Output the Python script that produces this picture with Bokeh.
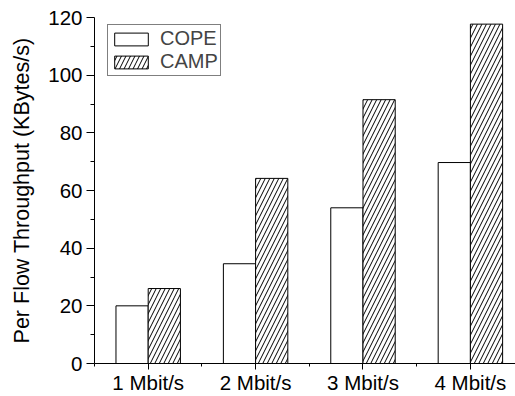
from bokeh.plotting import figure
from bokeh.models import FixedTicker, Range1d, Legend, LegendItem
from bokeh.embed import file_html
from bokeh.resources import INLINE

categories = ["1 Mbit/s", "2 Mbit/s", "3 Mbit/s", "4 Mbit/s"]
cope = [20.0, 34.6, 54.0, 69.7]
camp = [26.0, 64.2, 91.5, 117.7]
y_ticks = [0, 20, 40, 60, 80, 100, 120]

xs = list(range(1, len(categories) + 1))
FONT = "Liberation Sans"

p = figure(width=515, height=396, output_backend="svg", toolbar_location=None,
           x_range=Range1d(0.5, 4.42), y_range=Range1d(0, 120),
           min_border_left=94, min_border_top=17, min_border_right=0, min_border_bottom=30)
p.outline_line_color = None
p.xgrid.visible = False
p.ygrid.visible = False

bw = 0.3
r1 = p.vbar(x=[x - bw / 2 for x in xs], top=cope, width=bw, bottom=0,
            fill_color="white", line_color="black", line_width=1)
r2 = p.vbar(x=[x + bw / 2 for x in xs], top=camp, width=bw, bottom=0,
            fill_color="white", line_color="black", line_width=1,
            hatch_pattern="/", hatch_color="black", hatch_scale=9, hatch_weight=1)

p.xaxis.ticker = FixedTicker(ticks=xs, minor_ticks=[0.5, 1.5, 2.5, 3.5])
p.xaxis.major_label_overrides = {x: c for x, c in zip(xs, categories)}
p.yaxis.ticker = FixedTicker(ticks=y_ticks, minor_ticks=[10, 30, 50, 70, 90, 110])
for ax in (p.xaxis[0], p.yaxis[0]):
    ax.axis_line_color = "black"
    ax.axis_line_width = 1
    ax.major_tick_line_color = "black"
    ax.minor_tick_line_color = "black"
    ax.major_tick_in = 0
    ax.minor_tick_in = 0
    ax.major_label_text_font = FONT
    ax.major_label_text_font_size = "20.5px"
    ax.major_label_text_color = "black"
p.xaxis.major_tick_out = 6
p.xaxis.minor_tick_out = 3
p.xaxis.major_label_standoff = 1
p.yaxis.major_tick_out = 8
p.yaxis.minor_tick_out = 4
p.yaxis.major_label_standoff = 4
p.yaxis.axis_label = "Per Flow Throughput (KBytes/s)"
p.yaxis.axis_label_text_font = FONT
p.yaxis.axis_label_text_font_size = "21.5px"
p.yaxis.axis_label_text_font_style = "normal"
p.yaxis.axis_label_text_color = "black"
p.yaxis.axis_label_standoff = 11

legend = Legend(items=[LegendItem(label="COPE", renderers=[r1]),
                       LegendItem(label="CAMP", renderers=[r2])],
                location=(13, 287))
legend.border_line_color = "black"
legend.border_line_width = 1
legend.background_fill_color = "white"
legend.background_fill_alpha = 1
legend.label_text_font = FONT
legend.label_text_font_size = "20px"
legend.glyph_width = 42
legend.glyph_height = 16
legend.label_height = 16
legend.label_standoff = 8
legend.padding = 2
legend.spacing = 0
legend.margin = 0
p.add_layout(legend)

open("out.html", "w").write(file_html(p, INLINE))
